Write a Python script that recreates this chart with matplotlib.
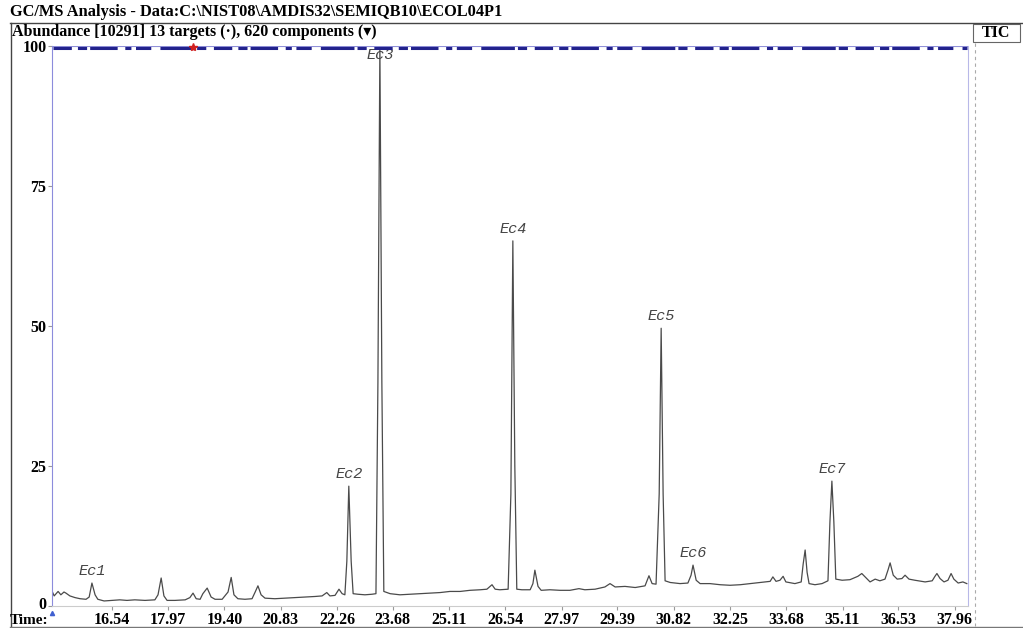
import matplotlib
matplotlib.use("Agg")
import matplotlib.pyplot as plt
from matplotlib.patches import Rectangle
from matplotlib.lines import Line2D
from matplotlib.transforms import ScaledTranslation

# retention time (min) / abundance (%)
rt = [15.02, 15.07, 15.17, 15.24, 15.32, 15.37, 15.47, 15.60, 15.73, 15.88,
      15.96, 16.03, 16.11, 16.18, 16.34, 16.54, 16.74, 16.92, 17.12, 17.38,
      17.63, 17.71, 17.79, 17.86, 17.94, 18.14, 18.40, 18.52, 18.60, 18.68,
      18.78, 18.85, 18.96, 19.06, 19.16, 19.34, 19.49, 19.57, 19.64, 19.74,
      19.92, 20.10, 20.18, 20.25, 20.33, 20.43, 20.68, 20.94, 21.19, 21.45,
      21.70, 21.88, 22.00, 22.08, 22.21, 22.31, 22.39, 22.46, 22.51, 22.56,
      22.62, 22.67, 22.79, 22.97, 23.15, 23.25, 23.30, 23.35, 23.40, 23.45,
      23.61, 23.86, 24.11, 24.37, 24.62, 24.88, 25.13, 25.39, 25.64, 25.90,
      26.07, 26.20, 26.28, 26.40, 26.61, 26.68, 26.73, 26.78, 26.83, 26.96,
      27.17, 27.24, 27.29, 27.37, 27.45, 27.67, 27.93, 28.18, 28.41, 28.56,
      28.82, 29.07, 29.20, 29.33, 29.58, 29.84, 30.09, 30.19, 30.27, 30.37,
      30.45, 30.50, 30.55, 30.60, 30.73, 30.98, 31.18, 31.26, 31.31, 31.39,
      31.49, 31.74, 32.00, 32.25, 32.51, 32.76, 33.01, 33.27, 33.34, 33.42,
      33.52, 33.60, 33.67, 33.90, 34.06, 34.11, 34.16, 34.21, 34.26, 34.41,
      34.59, 34.74, 34.79, 34.84, 34.89, 34.94, 35.10, 35.30, 35.50, 35.60,
      35.71, 35.81, 35.94, 36.06, 36.19, 36.27, 36.32, 36.40, 36.50, 36.62,
      36.70, 36.80, 36.95, 37.21, 37.39, 37.46, 37.51, 37.59, 37.69, 37.79,
      37.87, 37.94, 38.05, 38.17, 38.27]
abund = [2.6, 1.8, 2.6, 2.0, 2.5, 2.3, 1.8, 1.5, 1.3, 1.2,
         1.6, 4.1, 2.0, 1.2, 0.9, 1.0, 1.1, 1.0, 1.1, 1.0,
         1.1, 2.0, 5.0, 1.8, 1.0, 1.0, 1.1, 1.5, 2.3, 1.3,
         1.2, 2.2, 3.2, 1.6, 1.2, 1.2, 2.5, 5.1, 2.0, 1.3,
         1.2, 1.3, 2.5, 3.6, 2.0, 1.4, 1.3, 1.4, 1.5, 1.6,
         1.7, 1.8, 2.4, 1.8, 1.9, 3.0, 2.2, 2.0, 8.0, 21.4,
         8.0, 2.2, 2.1, 2.0, 2.1, 2.2, 40.0, 100.0, 40.0, 2.6,
         2.2, 2.0, 2.1, 2.2, 2.3, 2.4, 2.6, 2.6, 2.8, 2.9,
         3.0, 3.8, 3.0, 2.9, 3.0, 20.0, 65.2, 25.0, 3.0, 2.9,
         2.9, 4.0, 6.4, 3.5, 2.8, 2.9, 2.8, 2.8, 3.1, 2.9,
         3.0, 3.4, 4.0, 3.4, 3.5, 3.3, 3.6, 5.4, 4.0, 3.9,
         20.0, 49.6, 20.0, 4.5, 4.2, 4.0, 4.1, 5.5, 7.3, 4.6,
         4.0, 4.0, 3.8, 3.7, 3.8, 4.0, 4.2, 4.4, 5.2, 4.4,
         4.6, 5.3, 4.3, 4.0, 4.3, 7.5, 10.0, 6.0, 4.0, 3.8,
         4.0, 4.5, 15.0, 22.3, 15.0, 4.8, 4.6, 4.7, 5.3, 5.8,
         5.0, 4.3, 4.8, 4.5, 4.8, 6.5, 7.7, 5.5, 4.8, 4.9,
         5.5, 4.8, 4.6, 4.3, 4.5, 5.3, 5.8, 4.9, 4.3, 4.6,
         5.8, 4.8, 4.1, 4.3, 4.0]

# labelled compounds
comp_names = ["Ec1", "Ec2", "Ec3", "Ec4", "Ec5", "Ec6", "Ec7"]
comp_rt = [16.03, 22.56, 23.35, 26.73, 30.50, 31.31, 34.84]
comp_top = [4.1, 21.4, 100.0, 65.2, 49.6, 7.3, 22.3]

time_ticks = [16.54, 17.97, 19.40, 20.83, 22.26, 23.68, 25.11, 26.54,
              27.97, 29.39, 30.82, 32.25, 33.68, 35.11, 36.53, 37.96]
abund_ticks = [0, 25, 50, 75, 100]
target_rt = [18.60]

W, H = 1023, 628
fig = plt.figure(figsize=(W / 100, H / 100), dpi=100)
serif = "Liberation Serif"

def px(x, y):
    return x / W, 1 - y / H

# axes: x 52..968 px, y 46..606 px
ax = fig.add_axes([52 / W, 22 / H, 916 / W, 560 / H])
ax.set_xlim(15.015, 38.30)
ax.set_ylim(0, 100)

ax.plot(rt, abund, color="#4a4a4a", lw=0.9)

# component markers along the top
ax.plot([15.05, 38.28], [100, 100], color="#9090d8", lw=0.8, zorder=3)
ax.plot([15.05, 38.28], [99.7, 99.7], color="#22228c", lw=2.2, zorder=4,
        dashes=(6, 2, 3, 1, 9, 2.5, 2, 1.5, 5, 3, 11, 1, 3, 2.5),
        clip_on=False)
ax.plot(target_rt, [99.8], marker="*", color="#d02020", ms=6, ls="none",
        zorder=5, clip_on=False)

for n, t, v in zip(comp_names, comp_rt, comp_top):
    yy = v + 0.9 if v < 95 else 97.2
    ax.text(t, yy, n, ha="center", va="bottom", fontsize=11,
            family=["Liberation Mono", "DejaVu Sans Mono"], style="italic",
            color="#444444")

ax.set_xticks(time_ticks)
ax.set_xticklabels([f"{t:.2f}" for t in time_ticks])
ax.set_yticks(abund_ticks)
ax.tick_params(axis="both", length=3, color="#999999", width=0.8, pad=1)
for lab in ax.get_xticklabels() + ax.get_yticklabels():
    lab.set_fontfamily(serif)
    lab.set_fontweight("bold")
    lab.set_fontsize(11.5)
# nudge the "0" label up so it clears "Time:"
zero_lab = ax.get_yticklabels()[0]
zero_lab.set_transform(zero_lab.get_transform()
                       + ScaledTranslation(0, 3 / 100, fig.dpi_scale_trans))

ax.spines["left"].set_color("#8c8cdc")
ax.spines["right"].set_color("#b8b8e8")
ax.spines["top"].set_visible(False)
ax.spines["bottom"].set_color("#cccccc")
for s in ax.spines.values():
    s.set_linewidth(0.8)

# small blue marker at origin
ax.plot([15.015], [-1.2], marker="^", color="#4060d0", ms=3, clip_on=False)

# frame and header
fig.text(*px(10, 12), "GC/MS Analysis - Data:C:\\NIST08\\AMDIS32\\SEMIQB10\\ECOL04P1",
         family=serif, weight="bold", fontsize=11.8, va="center", ha="left")
fig.text(*px(12, 32), "Abundance [10291] 13 targets (\u00b7), 620 components (\u25be)",
         family=[serif, "DejaVu Sans"], weight="bold", fontsize=11.5,
         va="center", ha="left")
fig.text(*px(10, 621), "Time:", family=serif, weight="bold", fontsize=11,
         va="center", ha="left")

fig.add_artist(Line2D([10 / W, 1.0], [1 - 23 / H] * 2, color="#444444", lw=1.0))
fig.add_artist(Line2D([10.5 / W] * 2, [1 - 23 / H, 0.0], color="#444444", lw=1.0))
fig.add_artist(Line2D([10 / W, 1.0], [1 - 626.5 / H] * 2, color="#777777", lw=1.0))
fig.add_artist(Line2D([975 / W] * 2, [1 - 43 / H, 1 - 626 / H], color="#aaaaaa",
                      lw=0.8, ls=(0, (3, 3))))
fig.add_artist(Rectangle((973 / W, 1 - 42 / H), 47 / W, 18 / H,
                         transform=fig.transFigure, fill=False,
                         edgecolor="#666666", lw=0.8))
fig.text(996.5 / W, 1 - 33 / H, "TIC", family=serif, weight="bold",
         fontsize=11.5, ha="center", va="center")

fig.savefig("out.png", dpi=100)
